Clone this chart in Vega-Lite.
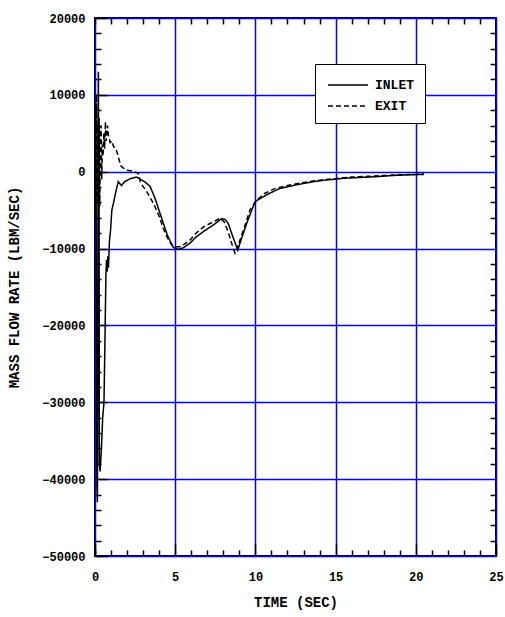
{
  "$schema": "https://vega.github.io/schema/vega-lite/v6.json",
  "width": 401,
  "height": 538,
  "autosize": "none",
  "padding": {"left": 95, "top": 18, "right": 9, "bottom": 61},
  "background": "white",
  "config": {
    "view": {"stroke": "black", "strokeWidth": 2},
    "font": "Liberation Mono",
    "axis": {"labelFont": "Liberation Mono", "titleFont": "Liberation Mono", "labelFontWeight": "bold", "titleFontWeight": "bold", "labelColor": "black", "titleColor": "black"}
  },
  "data": {"values": [
    {"t": 0, "v": 0, "s": "INLET"},
    {"t": 0.03, "v": -6000, "s": "INLET"},
    {"t": 0.06, "v": 9000, "s": "INLET"},
    {"t": 0.09, "v": -25000, "s": "INLET"},
    {"t": 0.12, "v": -41000, "s": "INLET"},
    {"t": 0.15, "v": -43000, "s": "INLET"},
    {"t": 0.17, "v": -30000, "s": "INLET"},
    {"t": 0.19, "v": 5000, "s": "INLET"},
    {"t": 0.21, "v": 13000, "s": "INLET"},
    {"t": 0.23, "v": -2000, "s": "INLET"},
    {"t": 0.25, "v": 6000, "s": "INLET"},
    {"t": 0.27, "v": -38000, "s": "INLET"},
    {"t": 0.32, "v": -39000, "s": "INLET"},
    {"t": 0.4, "v": -36000, "s": "INLET"},
    {"t": 0.48, "v": -32000, "s": "INLET"},
    {"t": 0.56, "v": -30000, "s": "INLET"},
    {"t": 0.62, "v": -22000, "s": "INLET"},
    {"t": 0.68, "v": -13500, "s": "INLET"},
    {"t": 0.72, "v": -11500, "s": "INLET"},
    {"t": 0.76, "v": -13000, "s": "INLET"},
    {"t": 0.8, "v": -11000, "s": "INLET"},
    {"t": 0.84, "v": -12500, "s": "INLET"},
    {"t": 0.9, "v": -9000, "s": "INLET"},
    {"t": 0.97, "v": -7600, "s": "INLET"},
    {"t": 1.05, "v": -5000, "s": "INLET"},
    {"t": 1.15, "v": -4100, "s": "INLET"},
    {"t": 1.3, "v": -2600, "s": "INLET"},
    {"t": 1.45, "v": -1300, "s": "INLET"},
    {"t": 1.65, "v": -1800, "s": "INLET"},
    {"t": 1.85, "v": -1300, "s": "INLET"},
    {"t": 2.2, "v": -900, "s": "INLET"},
    {"t": 2.6, "v": -700, "s": "INLET"},
    {"t": 2.85, "v": -1000, "s": "INLET"},
    {"t": 3.1, "v": -1300, "s": "INLET"},
    {"t": 3.43, "v": -1900, "s": "INLET"},
    {"t": 3.75, "v": -3500, "s": "INLET"},
    {"t": 4.05, "v": -5400, "s": "INLET"},
    {"t": 4.5, "v": -8200, "s": "INLET"},
    {"t": 4.88, "v": -9850, "s": "INLET"},
    {"t": 5.2, "v": -10100, "s": "INLET"},
    {"t": 5.5, "v": -9900, "s": "INLET"},
    {"t": 5.92, "v": -9300, "s": "INLET"},
    {"t": 6.3, "v": -8500, "s": "INLET"},
    {"t": 6.75, "v": -7800, "s": "INLET"},
    {"t": 7.4, "v": -6900, "s": "INLET"},
    {"t": 7.9, "v": -6100, "s": "INLET"},
    {"t": 8.1, "v": -6200, "s": "INLET"},
    {"t": 8.3, "v": -6700, "s": "INLET"},
    {"t": 8.6, "v": -8500, "s": "INLET"},
    {"t": 8.9, "v": -10200, "s": "INLET"},
    {"t": 9.1, "v": -8900, "s": "INLET"},
    {"t": 9.46, "v": -6700, "s": "INLET"},
    {"t": 9.98, "v": -3900, "s": "INLET"},
    {"t": 10.7, "v": -3000, "s": "INLET"},
    {"t": 11.5, "v": -2200, "s": "INLET"},
    {"t": 12.57, "v": -1700, "s": "INLET"},
    {"t": 13.6, "v": -1300, "s": "INLET"},
    {"t": 14.3, "v": -1100, "s": "INLET"},
    {"t": 14.86, "v": -1000, "s": "INLET"},
    {"t": 15.5, "v": -850, "s": "INLET"},
    {"t": 16.5, "v": -750, "s": "INLET"},
    {"t": 17.5, "v": -650, "s": "INLET"},
    {"t": 18.5, "v": -500, "s": "INLET"},
    {"t": 19.5, "v": -400, "s": "INLET"},
    {"t": 20.5, "v": -350, "s": "INLET"},
    {"t": 0, "v": 0, "s": "EXIT"},
    {"t": 0.03, "v": 8000, "s": "EXIT"},
    {"t": 0.06, "v": -3000, "s": "EXIT"},
    {"t": 0.1, "v": 10000, "s": "EXIT"},
    {"t": 0.14, "v": -4000, "s": "EXIT"},
    {"t": 0.18, "v": 6000, "s": "EXIT"},
    {"t": 0.22, "v": -2000, "s": "EXIT"},
    {"t": 0.26, "v": 7000, "s": "EXIT"},
    {"t": 0.3, "v": -4500, "s": "EXIT"},
    {"t": 0.34, "v": 4000, "s": "EXIT"},
    {"t": 0.38, "v": 6000, "s": "EXIT"},
    {"t": 0.42, "v": -1000, "s": "EXIT"},
    {"t": 0.46, "v": 3500, "s": "EXIT"},
    {"t": 0.5, "v": 2000, "s": "EXIT"},
    {"t": 0.55, "v": 5000, "s": "EXIT"},
    {"t": 0.6, "v": 3000, "s": "EXIT"},
    {"t": 0.65, "v": 6500, "s": "EXIT"},
    {"t": 0.7, "v": 4000, "s": "EXIT"},
    {"t": 0.78, "v": 6000, "s": "EXIT"},
    {"t": 0.85, "v": 4500, "s": "EXIT"},
    {"t": 0.95, "v": 3800, "s": "EXIT"},
    {"t": 1.05, "v": 4000, "s": "EXIT"},
    {"t": 1.15, "v": 3300, "s": "EXIT"},
    {"t": 1.3, "v": 3000, "s": "EXIT"},
    {"t": 1.45, "v": 2000, "s": "EXIT"},
    {"t": 1.6, "v": 800, "s": "EXIT"},
    {"t": 1.75, "v": 500, "s": "EXIT"},
    {"t": 2.0, "v": 200, "s": "EXIT"},
    {"t": 2.3, "v": 100, "s": "EXIT"},
    {"t": 2.7, "v": -200, "s": "EXIT"},
    {"t": 2.85, "v": -1500, "s": "EXIT"},
    {"t": 3.2, "v": -2500, "s": "EXIT"},
    {"t": 3.64, "v": -4100, "s": "EXIT"},
    {"t": 4.0, "v": -5800, "s": "EXIT"},
    {"t": 4.26, "v": -7400, "s": "EXIT"},
    {"t": 4.6, "v": -9000, "s": "EXIT"},
    {"t": 4.88, "v": -9750, "s": "EXIT"},
    {"t": 5.3, "v": -9750, "s": "EXIT"},
    {"t": 5.6, "v": -9400, "s": "EXIT"},
    {"t": 5.92, "v": -8900, "s": "EXIT"},
    {"t": 6.3, "v": -8000, "s": "EXIT"},
    {"t": 6.75, "v": -7200, "s": "EXIT"},
    {"t": 7.3, "v": -6600, "s": "EXIT"},
    {"t": 7.8, "v": -6050, "s": "EXIT"},
    {"t": 8.05, "v": -6500, "s": "EXIT"},
    {"t": 8.3, "v": -7800, "s": "EXIT"},
    {"t": 8.55, "v": -9500, "s": "EXIT"},
    {"t": 8.73, "v": -10600, "s": "EXIT"},
    {"t": 8.85, "v": -10000, "s": "EXIT"},
    {"t": 9.04, "v": -8900, "s": "EXIT"},
    {"t": 9.35, "v": -7000, "s": "EXIT"},
    {"t": 9.66, "v": -5000, "s": "EXIT"},
    {"t": 10.08, "v": -3700, "s": "EXIT"},
    {"t": 10.6, "v": -2800, "s": "EXIT"},
    {"t": 11.2, "v": -2200, "s": "EXIT"},
    {"t": 12.0, "v": -1800, "s": "EXIT"},
    {"t": 13.0, "v": -1400, "s": "EXIT"},
    {"t": 14.0, "v": -1100, "s": "EXIT"},
    {"t": 15.0, "v": -900, "s": "EXIT"},
    {"t": 16.0, "v": -700, "s": "EXIT"},
    {"t": 17.0, "v": -600, "s": "EXIT"},
    {"t": 18.0, "v": -500, "s": "EXIT"},
    {"t": 19.0, "v": -400, "s": "EXIT"},
    {"t": 20.0, "v": -350, "s": "EXIT"},
    {"t": 20.5, "v": -300, "s": "EXIT"}
  ]},
  "resolve": {"axis": {"x": "independent", "y": "independent"}},
  "layer": [
    {
      "mark": {"type": "line", "strokeOpacity": 0},
      "encoding": {
        "x": {"field": "t", "type": "quantitative", "scale": {"domain": [0, 25], "nice": false},
          "axis": {"orient": "bottom", "values": [0,1,2,3,4,6,7,8,9,11,12,13,14,16,17,18,19,21,22,23,24], "labels": false, "domain": false, "grid": false, "tickSize": -6, "tickWidth": 1.5, "tickColor": "black", "title": null}},
        "y": {"field": "v", "type": "quantitative", "scale": {"domain": [-50000, 20000], "nice": false},
          "axis": {"orient": "left", "values": [-48000,-46000,-44000,-42000,-38000,-36000,-34000,-32000,-28000,-26000,-24000,-22000,-18000,-16000,-14000,-12000,-8000,-6000,-4000,-2000,2000,4000,6000,8000,12000,14000,16000,18000], "labels": false, "domain": false, "grid": false, "tickSize": -6, "tickWidth": 1.5, "tickColor": "black", "title": null}},
        "detail": {"field": "s"}
      }
    },
    {
      "mark": {"type": "line", "strokeOpacity": 0},
      "encoding": {
        "x": {"field": "t", "type": "quantitative",
          "axis": {"orient": "top", "values": [0,1,2,3,4,6,7,8,9,11,12,13,14,16,17,18,19,21,22,23,24], "labels": false, "domain": false, "grid": false, "tickSize": -6, "tickWidth": 1.5, "tickColor": "black", "title": null}},
        "y": {"field": "v", "type": "quantitative",
          "axis": {"orient": "right", "values": [-48000,-46000,-44000,-42000,-38000,-36000,-34000,-32000,-28000,-26000,-24000,-22000,-18000,-16000,-14000,-12000,-8000,-6000,-4000,-2000,2000,4000,6000,8000,12000,14000,16000,18000], "labels": false, "domain": false, "grid": false, "tickSize": -6, "tickWidth": 1.5, "tickColor": "black", "title": null}},
        "detail": {"field": "s"}
      }
    },
    {
      "mark": {"type": "line", "strokeWidth": 1.5, "color": "black"},
      "encoding": {
        "x": {"field": "t", "type": "quantitative",
          "axis": {"orient": "bottom", "values": [0,5,10,15,20,25], "domain": false, "grid": true, "gridColor": "#0000ff", "gridWidth": 1.5, "gridOpacity": 1, "tickSize": -12, "tickWidth": 1.5, "tickColor": "black", "labelPadding": 27, "labelFontSize": 12, "labelFlush": false, "title": "TIME (SEC)", "titleFontSize": 14, "titlePadding": 13}},
        "y": {"field": "v", "type": "quantitative",
          "axis": {"orient": "left", "values": [-50000,-40000,-30000,-20000,-10000,0,10000,20000], "format": "d", "domain": false, "grid": true, "gridColor": "#0000ff", "gridWidth": 1.5, "gridOpacity": 1, "tickSize": -12, "tickWidth": 1.5, "tickColor": "black", "labelPadding": 22, "labelFontSize": 12, "labelFlush": false, "title": "MASS FLOW RATE (LBM/SEC)", "titleFontSize": 14, "titlePadding": 20}},
        "strokeDash": {"field": "s", "type": "nominal",
          "scale": {"domain": ["INLET", "EXIT"], "range": [[1, 0], [5, 3]]},
          "legend": {"title": null, "orient": "none", "legendX": 220, "legendY": 46, "fillColor": "white", "strokeColor": "black", "padding": 10, "symbolType": "M-2,0H2", "symbolSize": 400, "symbolOffset": 12, "symbolStrokeWidth": 1.5, "symbolStrokeColor": "black", "rowPadding": 3, "labelFont": "Liberation Mono", "labelFontWeight": "bold", "labelFontSize": 13, "labelOffset": 16, "labelColor": "black"}}
      }
    }
  ]
}
